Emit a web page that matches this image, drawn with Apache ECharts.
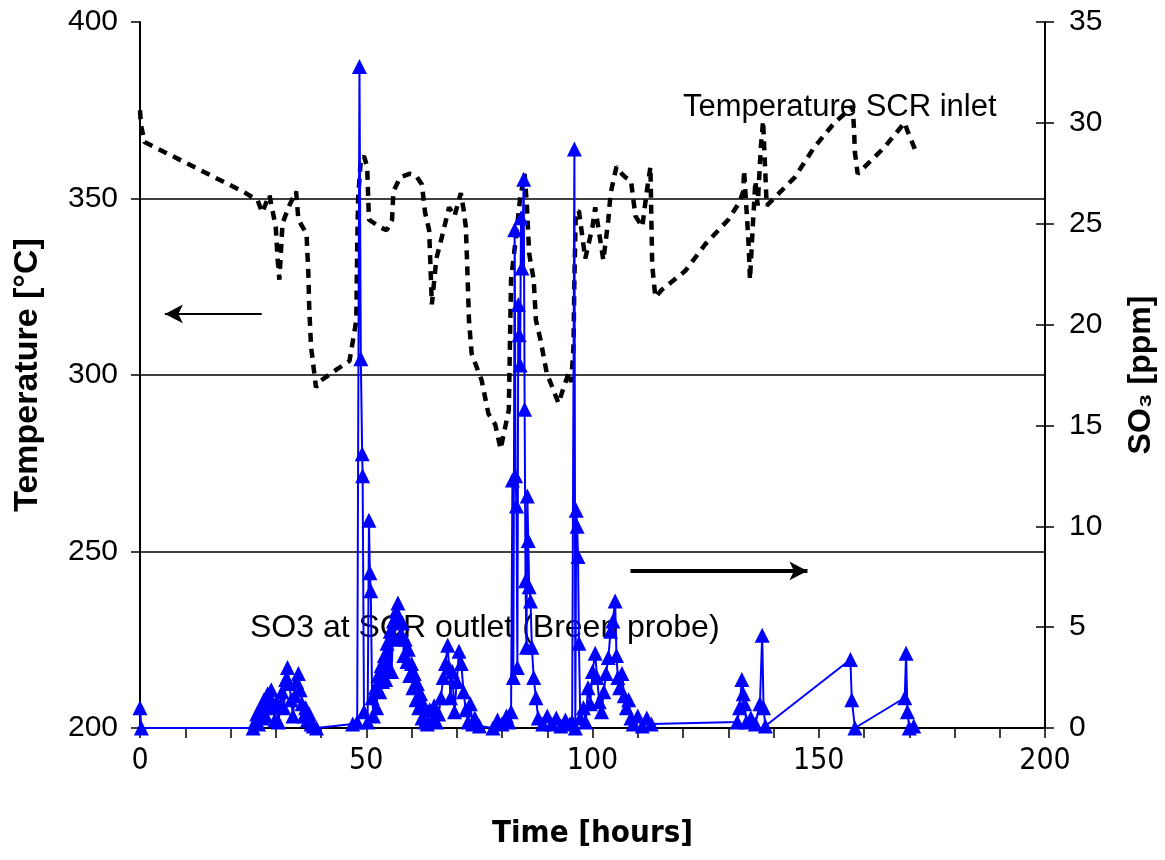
<!DOCTYPE html>
<html>
<head>
<meta charset="utf-8">
<script src="https://cdn.jsdelivr.net/npm/echarts@6/dist/echarts.min.js"></script>
<style>
html, body { margin: 0; padding: 0; background: #fff; }
#chart { width: 1165px; height: 860px; }
</style>
</head>
<body>
<div id="chart"></div>
<script>
// time [h], temperature [°C]
var temp_data = [
	[0,375],[0.2,371],[1,366],[22.7,352],[26,349.5],[27,346],[28.6,351],[30,342],[30.4,333],[30.8,327],
	[31.5,343],[33,348],[34.5,352],[35,344],[36.8,340],[37.2,329],[37.4,319],[37.8,308],[38.9,296.5],
	[39.5,298],[43.4,301.5],[46.3,304],[47.8,315.5],[48,336],[48.2,350],[48.8,361],[49.5,362],[50.2,359],
	[50.6,344],[52.9,342],[54.5,341],[55.7,344],[56,352],[57.5,356],[59.5,357],[61,356.5],[62.3,354],
	[63,346],[63.9,341],[64.2,330.5],[64.5,320],[65.5,333],[66.7,339],[68.3,347.5],[69.5,345],[70.9,351.5],
	[71.5,347],[72,342],[72.3,331.5],[72.7,315.5],[73.3,306],[75.5,298.5],[77,289],[78.5,286],[79.7,279],
	[80.5,284],[81.5,290],[82,327],[83,338],[84,350],[85,357],[85.5,348],[86,334.5],[87,327],[87.5,315.5],
	[88.5,310],[89.9,300.5],[92.5,292],[93.5,296],[94.7,300.5],[95.3,298],[95.8,308],[96,327],[96.3,346],
	[97,346.5],[98.4,333],[99.3,338],[100,342],[100.6,347.5],[102.4,332.5],[103.5,344],[104,351.5],
	[105.3,359],[106.5,357],[107.3,356],[108.5,355],[109.5,345],[111,342],[112,352],[112.8,359],[113,345],
	[113.2,331],[113.9,322],[115.2,324],[120.5,329.5],[124.9,337],[130,344],[132.5,349],[133.3,352],
	[133.5,358],[134,347.5],[134.5,337],[134.8,327],[135.5,344],[136,355],[136.5,348],[137.2,364.5],
	[137.7,372],[138.5,348],[144.7,356],[149,364.5],[153.5,371.5],[157.5,376],[157.8,369.5],[158,363],
	[158.6,357],[164.5,364.5],[169,371.5],[169.5,369.5],[171.4,363.5]
];
// time [h], SO3 [ppm]
var so3_data = [
	[0,1.0],[0.3,0],[25,0],[25.4,0.3],[25.8,0.7],[26.2,0.2],[26.6,1.0],[27,0.5],[27.4,1.4],[27.8,0.6],
	[28.2,1.7],[28.6,1.0],[29,1.9],[29.4,1.2],[29.8,0.4],[30.2,1.3],[30.6,0.3],[31,1.1],[31.4,1.8],
	[31.8,1.0],[32.2,2.4],[32.6,3.0],[33,2.2],[33.4,1.4],[33.8,0.6],[34.2,1.6],[34.6,2.3],[35,2.7],
	[35.4,1.9],[35.8,1.2],[36.2,0.6],[36.6,1.0],[37,0.4],[37.4,0.7],[37.8,0.2],[38.3,0.1],[39,0],[47,0.2],
	[48,0.3],[48.5,32.8],[48.8,18.3],[49.1,13.6],[49.2,12.5],[49.5,0.8],[50.3,0.3],[50.6,10.3],[50.8,7.7],
	[51,6.8],[51.3,1.5],[51.6,0.6],[52,2.0],[52.3,1.0],[52.6,2.6],[53,1.8],[53.3,3.1],[53.6,2.3],[54,3.6],
	[54.3,2.4],[54.6,4.2],[55,3.0],[55.3,4.8],[55.6,2.8],[56,5.3],[56.3,4.4],[56.6,5.8],[57,6.2],[57.3,5.4],
	[57.6,4.6],[58,5.2],[58.3,3.6],[58.6,4.4],[59,3.3],[59.3,3.9],[59.6,2.6],[60,3.2],[60.3,2.0],[60.6,2.7],
	[61,1.4],[61.3,2.2],[61.6,1.0],[62,1.7],[62.3,0.5],[62.6,1.2],[63,0.3],[63.5,0.2],[64,0.9],[64.5,0.4],
	[65,1.1],[65.5,0.3],[66,0.7],[66.5,1.5],[67,2.5],[67.5,3.2],[68,4.1],[68.3,3.0],[68.6,1.5],[69,2.8],
	[69.5,0.8],[70,2.3],[70.5,3.8],[71,3.2],[71.5,1.8],[72,0.9],[72.5,0.3],[73,1.2],[73.5,0.2],[74,0.5],
	[75,0.1],[78,0],[79,0.4],[80,0.2],[81,0.6],[81.5,0.3],[82,0.8],[82.3,12.3],[82.5,2.5],[82.8,24.7],
	[83,12.5],[83.2,11.0],[83.4,3.0],[83.6,21.0],[83.8,19.5],[84,18.0],[84.2,25.3],[84.4,22.8],[84.8,27.2],
	[85,15.8],[85.2,7.3],[85.4,4.0],[85.6,11.5],[85.8,9.3],[86,7.0],[86.3,6.3],[86.6,4.0],[87,2.5],
	[87.5,1.5],[88,0.5],[89,0.2],[90,0.6],[91,0.2],[92,0.5],[93,0.1],[94,0.4],[95,0.2],[95.5,0.3],
	[96,28.7],[96.2,0],[96.4,10.8],[96.6,10.0],[96.8,8.5],[97,4.2],[97.3,0.5],[98,1.0],[98.5,0.3],[99,2.0],
	[99.5,1.2],[100,2.8],[100.6,3.7],[101,2.5],[101.5,1.3],[102,0.8],[102.5,1.8],[103,2.7],[103.5,3.5],
	[104,4.8],[104.5,5.3],[105,6.3],[105.3,3.6],[105.6,2.5],[106,2.0],[106.5,2.7],[107,1.6],[107.5,1.0],
	[108,1.4],[108.5,0.5],[109,0.2],[110,0.6],[111,0.1],[112,0.5],[113,0.2],[132,0.3],[132.5,1.0],
	[133,2.4],[133.3,1.7],[133.6,1.2],[134,0.3],[135,0.5],[136,0.2],[137,1.2],[137.5,4.6],[137.8,1.0],
	[138.2,0.1],[157,3.4],[157.3,1.4],[158,0],[169,1.5],[169.3,3.7],[169.6,0.8],[170,0],[171,0.1]
];
var x_range = [0, 200];
var temp_range = [200, 400];
var so3_range = [0, 35];

var label_font = "'Liberation Sans', Arial, sans-serif";
var narrow_font = "'Liberation Sans Narrow', 'DejaVu Sans Condensed', 'Liberation Sans', Arial, sans-serif";

var mycharts = echarts.init(document.getElementById('chart'));
var option = {
	animation: false,
	backgroundColor: '#fff',
	grid: { left: 140, right: 117, top: 22, bottom: 132 },
	graphic: [{
		type: 'text', left: 683, top: 92, z: 0,
		style: { text: 'Temperature SCR inlet', fill: '#000', font: '31px ' + label_font }
	}, {
		type: 'text', left: 250, top: 612, z: 0,
		style: { text: 'SO3 at SCR outlet (Breen probe)', fill: '#000', font: '32px ' + label_font }
	}],
	xAxis: {
		type: 'value',
		min: x_range[0], max: x_range[1], interval: 50,
		name: 'Time [hours]', nameLocation: 'middle', nameGap: 90,
		nameTextStyle: { fontFamily: narrow_font, fontWeight: 'bold', fontSize: 31, color: '#000' },
		axisLine: { lineStyle: { color: '#000', width: 2 } },
		axisTick: { show: true, length: 10, lineStyle: { color: '#000', width: 1.5 } },
		minorTick: { show: true, splitNumber: 5, length: 10, lineStyle: { color: '#000', width: 1.5 } },
		axisLabel: { fontFamily: narrow_font, fontSize: 30, color: '#000', margin: 18 },
		splitLine: { show: false }
	},
	yAxis: [{
		type: 'value', position: 'left',
		min: temp_range[0], max: temp_range[1], interval: 50,
		name: 'Temperature [°C]', nameLocation: 'middle', nameGap: 95, nameRotate: 90,
		nameTextStyle: { fontFamily: label_font, fontWeight: 'bold', fontSize: 34, color: '#000' },
		axisLine: { show: true, lineStyle: { color: '#000', width: 2 } },
		axisTick: { show: true, length: 9, lineStyle: { color: '#000', width: 1.5 } },
		axisLabel: { fontFamily: label_font, fontSize: 30, color: '#000', margin: 22 },
		splitLine: { show: true, showMaxLine: false, lineStyle: { color: '#000', width: 1.5 } }
	}, {
		type: 'value', position: 'right',
		min: so3_range[0], max: so3_range[1], interval: 5,
		name: 'SO₃ [ppm]', nameLocation: 'middle', nameGap: 80, nameRotate: 90,
		nameTextStyle: { fontFamily: label_font, fontWeight: 'bold', fontSize: 32, color: '#000' },
		axisLine: { show: true, lineStyle: { color: '#000', width: 2 } },
		axisTick: { show: true, length: 9, lineStyle: { color: '#000', width: 1.5 } },
		axisLabel: { fontFamily: label_font, fontSize: 30, color: '#000', margin: 24 },
		splitLine: { show: false }
	}, {
		// inner half of the crossing ticks on the right axis
		type: 'value', position: 'right',
		min: so3_range[0], max: so3_range[1], interval: 5,
		axisLine: { show: false },
		axisTick: { show: true, inside: true, length: 9, lineStyle: { color: '#000', width: 1.5 } },
		axisLabel: { show: false },
		splitLine: { show: false }
	}],
	series: [{
		name: 'Temperature SCR inlet',
		type: 'line',
		yAxisIndex: 0,
		showSymbol: false,
		z: 2,
		lineStyle: { color: '#000', width: 4.5, type: [9, 7] },
		data: temp_data,
		markLine: {
			silent: true,
			symbol: ['none', 'arrow'],
			symbolSize: [14, 18],
			label: { show: false },
			lineStyle: { color: '#000', type: 'solid', width: 2 },
			data: [
				[{ coord: [26.9, 317.3] }, { coord: [5.5, 317.3] }],
				[{ coord: [108.4, 244.5], lineStyle: { width: 4 } }, { coord: [147.5, 244.5] }]
			]
		}
	}, {
		name: 'SO3 at SCR outlet (Breen probe)',
		type: 'line',
		yAxisIndex: 1,
		z: 3,
		symbol: 'triangle',
		symbolSize: [15, 15],
		itemStyle: { color: '#0000ff' },
		lineStyle: { color: '#0000ff', width: 2 },
		data: so3_data
	}]
};
mycharts.setOption(option);
</script>
</body>
</html>
